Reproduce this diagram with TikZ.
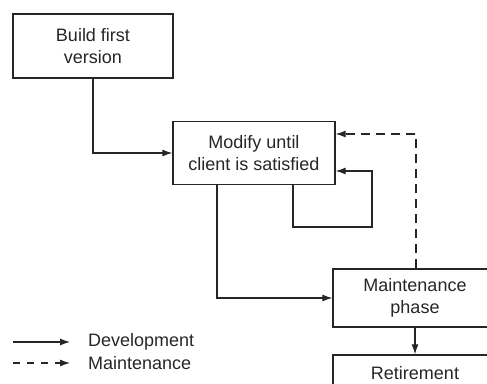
\documentclass[tikz,border=0pt]{standalone}
\usepackage{fontspec}
\setmainfont{Liberation Sans}
\usetikzlibrary{arrows.meta}
\begin{document}
\begin{tikzpicture}[x=1pt,y=-1pt,
  box/.style={draw=black!85, line width=1.3pt, rectangle, align=center, inner sep=0pt,
    font=\fontsize{18}{22}\selectfont, text=black!85},
  dev/.style={draw=black!85, line width=1.1pt, -{Latex[length=10pt,width=7pt]}},
  mnt/.style={dev, dash pattern=on 9pt off 6pt},
  lbl/.style={font=\fontsize{18}{21}\selectfont, text=black!85, anchor=west, inner sep=0pt}]
\useasboundingbox (0,0) rectangle (487,383);
\clip (0,0) rectangle (487,383);
\node[box, minimum width=160pt, minimum height=64pt] (build) at (93,46) {Build first\\version};
\node[box, minimum width=162pt, minimum height=63pt] (modify) at (254,153) {Modify until\\client is satisfied};
\node[box, minimum width=164pt, minimum height=58pt] (maint) at (415,298) {Maintenance\\phase};
\node[box, minimum width=164pt, minimum height=58pt] (ret) at (415,384) {Retirement\\\mbox{}};
\draw[dev] (build.south) |- (modify.west);
\draw[dev] ([xshift=39pt]modify.south) |- (372,227) |- ([yshift=-18pt]modify.east);
\draw[mnt] ([xshift=1pt]maint.north) |- ([yshift=19pt]modify.east);
\draw[dev] ([xshift=-37pt]modify.south) |- (maint.west);
\draw[dev] (maint.south) -- (ret.north);
\coordinate (la) at (13,342);
\coordinate (lb) at (70,342);
\coordinate (lc) at (13,363);
\coordinate (ld) at (70,363);
\draw[dev] (la) -- (lb);
\draw[mnt, dash pattern=on 7pt off 7pt] (lc) -- (ld);
\node[lbl] (devt) at (88,342) {Development};
\node[lbl] (mntt) at (88,363) {Maintenance};
\end{tikzpicture}
\end{document}
